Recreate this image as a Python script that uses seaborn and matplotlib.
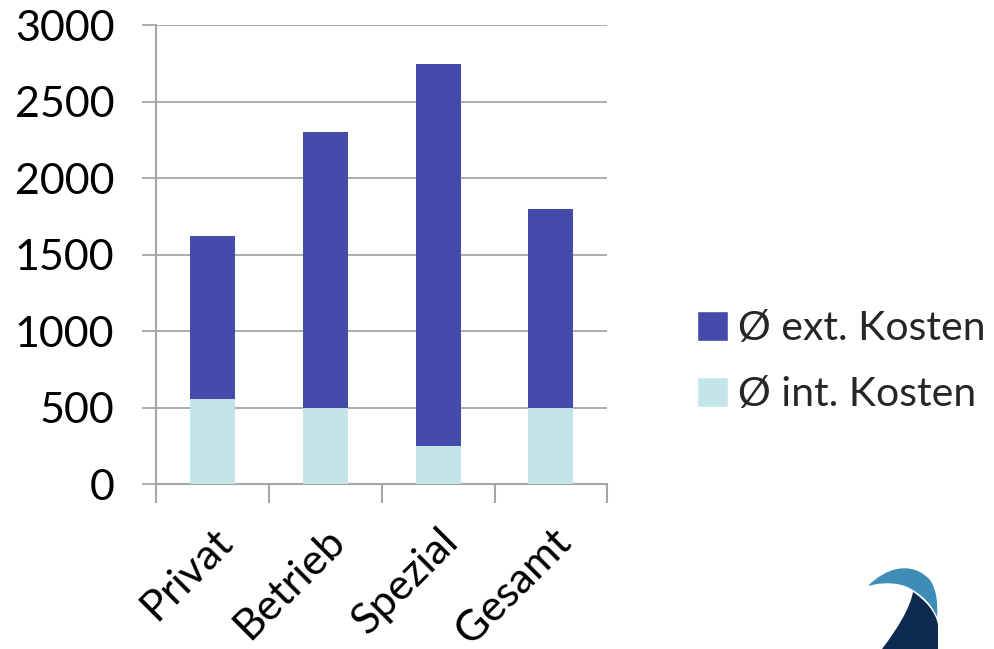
import matplotlib
matplotlib.use("Agg")
import matplotlib.pyplot as plt
from matplotlib.patches import Patch, PathPatch
from matplotlib.path import Path
import seaborn as sns
import pandas as pd

categories = ["Privat", "Betrieb", "Spezial", "Gesamt"]
int_kosten = [560, 500, 250, 500]
ext_kosten = [1060, 1800, 2500, 1300]
y_ticks = [0, 500, 1000, 1500, 2000, 2500, 3000]

EXT_COLOR = "#444BAA"
INT_COLOR = "#C3E5E7"
GRID_COLOR = "#A6A6A6"
FS = 31

sns.set_theme(style="white")
plt.rcParams["font.family"] = ["Lato", "DejaVu Sans"]

df = pd.DataFrame({
    "Kategorie": categories,
    "int": int_kosten,
    "ext": ext_kosten,
})
df["gesamt"] = df["int"] + df["ext"]

fig = plt.figure(figsize=(9.94, 6.49), dpi=100)
ax = fig.add_axes([0.157, 0.254, 0.454, 0.707])

# stacked bars: full height in the external colour, internal share on top of it
sns.barplot(data=df, x="Kategorie", y="gesamt", color=EXT_COLOR, width=0.4,
            saturation=1, linewidth=0, ax=ax, zorder=3)
sns.barplot(data=df, x="Kategorie", y="int", color=INT_COLOR, width=0.4,
            saturation=1, linewidth=0, ax=ax, zorder=3)

ax.set_ylim(0, 3000)
ax.set_xlim(-0.5, len(categories) - 0.5)
ax.set_yticks(y_ticks)
ax.set_yticklabels([str(v) for v in y_ticks], fontsize=FS)
ax.set_xlabel("")
ax.set_ylabel("")

# horizontal grid lines
ax.yaxis.grid(True, color=GRID_COLOR, linewidth=1.3, zorder=0)
ax.set_axisbelow(True)

for side in ["top", "right"]:
    ax.spines[side].set_visible(False)
for side in ["left", "bottom"]:
    ax.spines[side].set_color(GRID_COLOR)
    ax.spines[side].set_linewidth(1.5)

ax.tick_params(axis="y", direction="out", length=10, width=1.3, color=GRID_COLOR,
               left=True, pad=20, labelcolor="black")

# category boundary ticks on the x axis, labels at category centres
ax.set_xticks([i for i in range(len(categories))])
ax.set_xticklabels(categories, fontsize=FS, rotation=45, ha="right",
                   rotation_mode="anchor")
ax.tick_params(axis="x", which="major", length=0, pad=27, labelcolor="black")
ax.set_xticks([i - 0.5 for i in range(len(categories) + 1)], minor=True)
ax.tick_params(axis="x", which="minor", direction="out", length=14, width=1.5,
               color=GRID_COLOR, bottom=True)

handles = [Patch(facecolor=EXT_COLOR, label="Ø ext. Kosten"),
           Patch(facecolor=INT_COLOR, label="Ø int. Kosten")]
fig.legend(handles=handles, loc="center left", bbox_to_anchor=(0.664, 0.443),
           frameon=False, fontsize=29.5, handlelength=0.75, handleheight=0.75,
           handletextpad=0.25, labelspacing=0.7)

# small swoosh logo in the lower right corner
def px(x, y):
    return (x / 994.0, 1 - y / 649.0)

dark = Path([px(913, 592), px(925, 600), px(936, 612), px(938, 625),
             px(938, 649), px(882, 649), px(898, 628), px(910, 608), px(913, 592),
             px(913, 592)],
            [Path.MOVETO, Path.CURVE4, Path.CURVE4, Path.CURVE4,
             Path.LINETO, Path.LINETO, Path.CURVE4, Path.CURVE4, Path.CURVE4,
             Path.CLOSEPOLY])
fig.patches.append(PathPatch(dark, transform=fig.transFigure,
                             facecolor="#0B2A4E", edgecolor="none"))
light = Path([px(868, 586), px(885, 568), px(912, 560), px(930, 580),
              px(937, 590), px(938, 605), px(937, 617),
              px(930, 600), px(915, 590), px(905, 586),
              px(890, 581), px(875, 584), px(868, 586),
              px(868, 586)],
             [Path.MOVETO, Path.CURVE4, Path.CURVE4, Path.CURVE4,
              Path.CURVE4, Path.CURVE4, Path.CURVE4,
              Path.CURVE4, Path.CURVE4, Path.CURVE4,
              Path.CURVE4, Path.CURVE4, Path.CURVE4,
              Path.CLOSEPOLY])
fig.patches.append(PathPatch(light, transform=fig.transFigure,
                             facecolor="#3D8DB8", edgecolor="none"))

fig.savefig("out.png", dpi=100)
